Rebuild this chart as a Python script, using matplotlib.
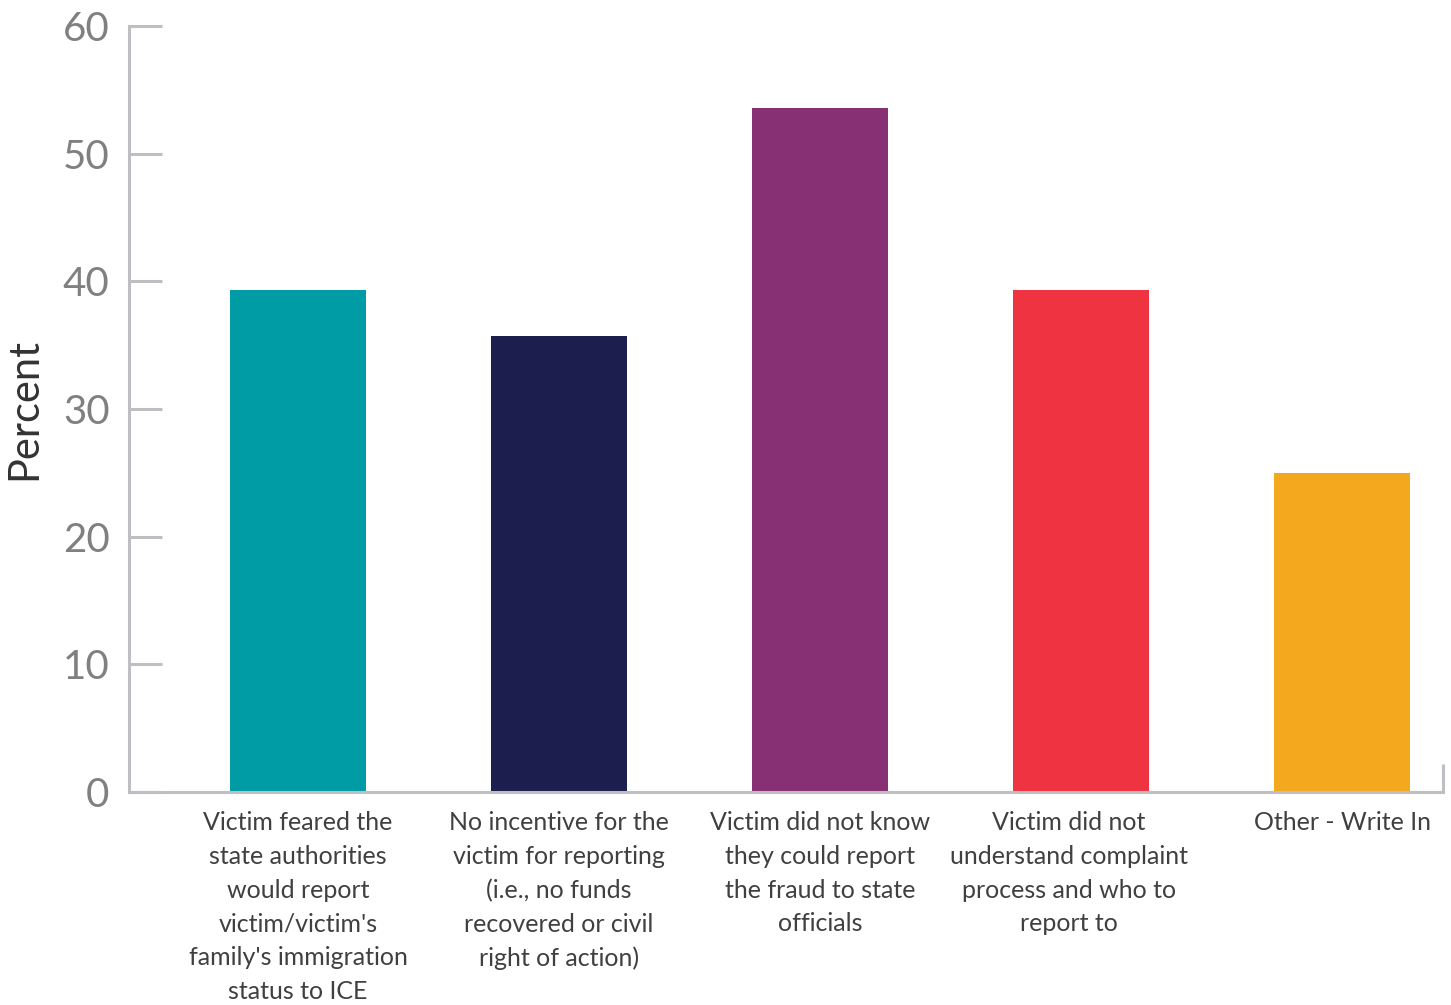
import matplotlib
matplotlib.use("Agg")
import matplotlib.pyplot as plt

categories = [
    "Victim feared the\nstate authorities\nwould report\nvictim/victim's\nfamily's immigration\nstatus to ICE",
    "No incentive for the\nvictim for reporting\n(i.e., no funds\nrecovered or civil\nright of action)",
    "Victim did not know\nthey could report\nthe fraud to state\nofficials",
    "Victim did not\nunderstand complaint\nprocess and who to\nreport to",
    "Other - Write In",
]
values = [39.3, 35.7, 53.6, 39.3, 25.0]
colors = ["#009CA6", "#1C1E4D", "#873174", "#EF3340", "#F4A81D"]
yticks = [0, 10, 20, 30, 40, 50, 60]

plt.rcParams['font.family'] = ['Lato', 'DejaVu Sans']

fig = plt.figure(figsize=(14.51, 10.05), dpi=100)
ax = fig.add_axes([0.0889, 0.2119, 0.9945 - 0.0889, 0.9741 - 0.2119])

x = list(range(len(categories)))
ax.bar(x, values, width=0.52, color=colors, zorder=2)

ax.set_xlim(-0.648, 4.387)
ax.set_ylim(0, 60)
ax.set_yticks(yticks)
ax.set_yticklabels([str(v) for v in yticks])

# label positions (4th label sits slightly left of its bar in the reference)
label_shift = [0, 0, 0, -0.046, 0]
ax.set_xticks([xi + s for xi, s in zip(x, label_shift)])
ax.set_xticklabels(categories, fontsize=18, color="#404040", linespacing=1.56)
ax.set_xticks([4.387], minor=True)

spine_color = "#BEBEC3"
for s in ["top", "right"]:
    ax.spines[s].set_visible(False)
for s in ["left", "bottom"]:
    ax.spines[s].set_color(spine_color)
    ax.spines[s].set_linewidth(2.2)

ax.tick_params(axis="y", direction="in", length=24, width=2.2, color=spine_color,
               labelsize=29, labelcolor="#808080", pad=14)
ax.tick_params(axis="x", which="major", length=0, pad=14)
ax.tick_params(axis="x", which="minor", direction="in", length=20, width=2.2, color=spine_color)

ax.set_ylabel("Percent", fontsize=30, color="#333333", labelpad=14)

fig.savefig("out.png", dpi=100)
